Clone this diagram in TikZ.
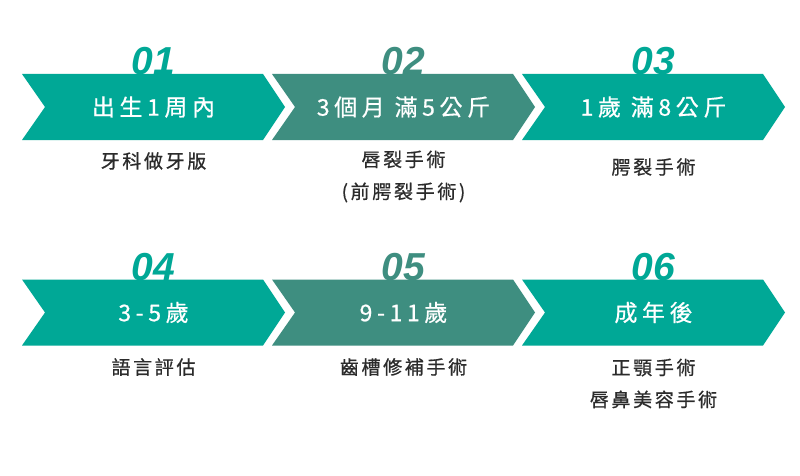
\documentclass[tikz,border=0pt]{standalone}
\usepackage{fontspec}
\newfontfamily\cjkbig{Noto Sans CJK TC}[LetterSpace=20,FakeBold=0.6]
\newfontfamily\cjksmall{Noto Sans CJK TC}[LetterSpace=14,FakeBold=0.7]
\newfontfamily\numfont{Liberation Sans}
\definecolor{tealA}{HTML}{00A896}
\definecolor{tealB}{HTML}{3E8E80}
\definecolor{txtgray}{HTML}{2B2B2B}
\begin{document}
\begin{tikzpicture}[x=1pt,y=-1pt,
  chevtext/.style={text=white,font=\cjkbig\fontsize{23}{26}\selectfont,inner sep=0pt},
  numtext/.style={font=\numfont\bfseries\itshape\fontsize{39}{39}\selectfont,anchor=base,inner sep=0pt},
  desc/.style={text=txtgray,font=\cjksmall\fontsize{19}{32}\selectfont,align=center,inner sep=0pt}]
\useasboundingbox (0,0) rectangle (800,476);
\fill[white] (0,0) rectangle (800,476);
\foreach \x/\y/\c in {22/74/tealA,272/74/tealB,522/74/tealA,22/279.5/tealA,272/279.5/tealB,522/279.5/tealA}{
  \fill[\c] (\x,\y) -- ++(241,0) -- ++(22,33) -- ++(-22,33) -- ++(-241,0) -- ++(23,-33) -- cycle;
}
% row 1
\node[numtext,text=tealA] (n1) at (153.5,74.5) {01};
\node[numtext,text=tealB] (n2) at (403.5,74.5) {02};
\node[numtext,text=tealA] (n3) at (653.5,74.5) {03};
\node[chevtext] (c1) at (153.5,107) {出生1周內};
\node[chevtext] (c2) at (403.5,107) {3個月 滿5公斤};
\node[chevtext] (c3) at (653.5,107) {1歲 滿8公斤};
\node[desc] (d1) at (153.5,161) {牙科做牙版};
\node[desc] (d2) at (403.5,176.5) {唇裂手術\\(前腭裂手術)};
\node[desc] (d3) at (653.5,167) {腭裂手術};
% row 2
\node[numtext,text=tealA] (n4) at (153.5,280) {04};
\node[numtext,text=tealB] (n5) at (403.5,280) {05};
\node[numtext,text=tealA] (n6) at (653.5,280) {06};
\node[chevtext] (c4) at (153.5,312.5) {3-5歲};
\node[chevtext] (c5) at (403.5,312.5) {9-11歲};
\node[chevtext] (c6) at (653.5,312.5) {成年後};
\node[desc] (d4) at (153.5,367) {語言評估};
\node[desc] (d5) at (403.5,367) {齒槽修補手術};
\node[desc] (d6) at (653.5,383.5) {正顎手術\\唇鼻美容手術};
\end{tikzpicture}
\end{document}
